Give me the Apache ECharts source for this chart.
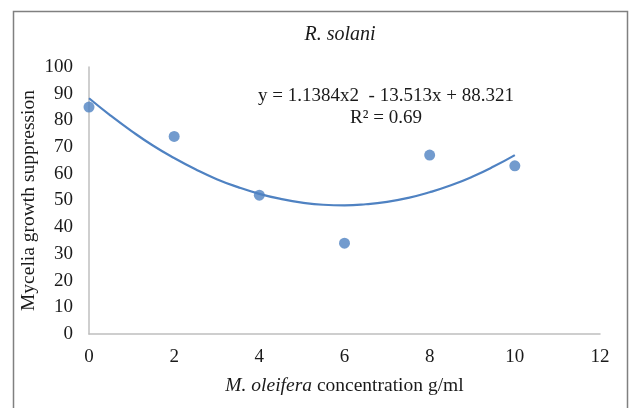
<!DOCTYPE html>
<html>
<head>
<meta charset="utf-8">
<script src="https://cdn.jsdelivr.net/npm/echarts@6/dist/echarts.min.js"></script>
<style>
  html, body { margin: 0; padding: 0; background: #fff; }
  #chart { width: 629px; height: 408px; }
</style>
</head>
<body>
<div id="chart"></div>
<script>
// 浓度 (g/ml) 与菌丝抑制率观测点
const concentration = [0, 2, 4, 6, 8, 10];
const suppression = [85, 74, 52, 34, 67, 63];

// 二次趋势线，按图上曲线逐点读取（步长 0.5）
const trendX = [0, 0.5, 1, 1.5, 2, 2.5, 3, 3.5, 4, 4.5, 5, 5.5, 6, 6.5, 7, 7.5, 8, 8.5, 9, 9.5, 10];
const trendY = [88.3, 81.9, 76.0, 70.6, 65.9, 61.7, 58.0, 55.0, 52.5, 50.6, 49.2, 48.4, 48.2, 48.6, 49.5, 51.0, 53.1, 55.7, 58.9, 62.7, 67.0];

const equationText = 'y = 1.1384x2  - 13.513x + 88.321';
const r2Text = 'R\u00b2 = 0.69';

const serif = '"Liberation Serif", "DejaVu Serif", serif';
const blue = '#4f82c2';
const ink = '#1a1a1a';

const chart = echarts.init(document.getElementById('chart'), null, { renderer: 'canvas' });

chart.setOption({
  backgroundColor: '#ffffff',
  animation: false,
  grid: { left: 89, right: 29, top: 67, bottom: 74 },
  xAxis: {
    type: 'value',
    min: 0,
    max: 12,
    interval: 2,
    axisLine: { show: true, lineStyle: { color: '#bfbfbf', width: 1.5 } },
    axisTick: { show: false },
    splitLine: { show: false },
    axisLabel: { color: ink, fontFamily: serif, fontSize: 19, margin: 14 },
    name: '{i|M. oleifera} concentration g/ml',
    nameLocation: 'middle',
    nameGap: 42,
    nameTextStyle: {
      color: ink, fontFamily: serif, fontSize: 19.5,
      rich: { i: { fontStyle: 'italic', fontFamily: serif, fontSize: 19.5, color: ink } }
    }
  },
  yAxis: {
    type: 'value',
    min: 0,
    max: 100,
    interval: 10,
    axisLine: { show: true, lineStyle: { color: '#bfbfbf', width: 1.5 } },
    axisTick: { show: false },
    splitLine: { show: false },
    axisLabel: { color: ink, fontFamily: serif, fontSize: 19, margin: 16 },
    name: 'Mycelia growth suppression',
    nameLocation: 'middle',
    nameGap: 50,
    nameRotate: 90,
    nameMoveOverlap: false,
    nameTextStyle: { color: ink, fontFamily: serif, fontSize: 19.5 }
  },
  series: [
    {
      // 趋势线
      type: 'line',
      data: trendX.map((x, i) => [x, trendY[i]]),
      smooth: true,
      symbol: 'none',
      lineStyle: { color: blue, width: 2.2 },
      z: 2
    },
    {
      // 观测点
      type: 'scatter',
      data: concentration.map((x, i) => [x, suppression[i]]),
      symbolSize: 11,
      itemStyle: { color: blue },
      z: 3
    }
  ],
  graphic: [
    {
      type: 'rect',
      shape: { x: 13.5, y: 11.5, width: 614, height: 420 },
      style: { fill: 'none', stroke: '#808080', lineWidth: 1.5 },
      silent: true
    },
    {
      type: 'text',
      x: 340,
      y: 35,
      style: {
        text: 'R. solani', fontFamily: serif, fontStyle: 'italic', fontSize: 20,
        fill: ink, textAlign: 'center', textVerticalAlign: 'middle'
      }
    },
    {
      type: 'text',
      x: 386,
      y: 96,
      style: {
        text: equationText, fontFamily: serif, fontSize: 19,
        fill: ink, textAlign: 'center', textVerticalAlign: 'middle'
      }
    },
    {
      type: 'text',
      x: 386,
      y: 118,
      style: {
        text: r2Text, fontFamily: serif, fontSize: 19,
        fill: ink, textAlign: 'center', textVerticalAlign: 'middle'
      }
    }
  ]
});
</script>
</body>
</html>
